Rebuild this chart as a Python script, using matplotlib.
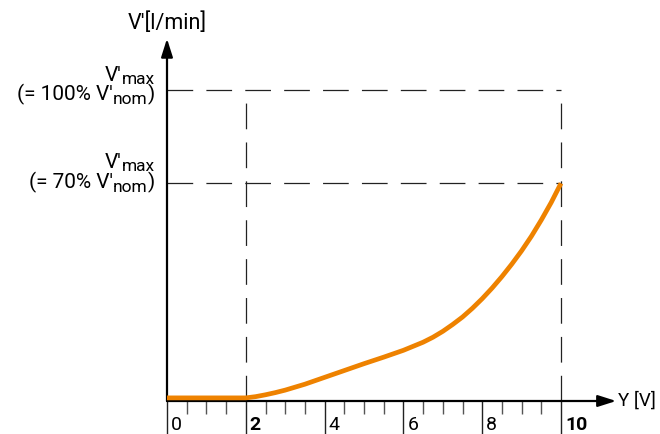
import matplotlib
matplotlib.use('Agg')
from matplotlib import pyplot as plt
from matplotlib.transforms import ScaledTranslation

plt.rcParams['font.family'] = ['Roboto', 'DejaVu Sans']
plt.rcParams['lines.scale_dashes'] = False

# control curve: flow V' (% of nominal) over control signal Y (V)
signal_v = [0, 2, 2.25, 2.5, 2.75, 3.0, 3.5, 4.0, 4.5, 5.0, 5.5, 6.0, 6.5,
            6.75, 7.0, 7.25, 7.5, 7.75, 8.0, 8.25, 8.5, 8.75, 9.0, 9.25,
            9.5, 9.75, 10]
flow_pct = [1.0, 1.0, 1.4, 2.0, 2.7, 3.5, 5.4, 7.6, 9.8, 12.0, 14.1, 16.3,
            18.9, 20.5, 22.4, 24.6, 27.0, 29.8, 32.9, 36.3, 40.0, 44.0,
            48.3, 53.0, 58.2, 63.8, 70.0]

major_ticks = [0, 2, 4, 6, 8, 10]
minor_ticks = [i * 0.5 for i in range(21)]
bold_ticks = [2, 10]
ref_levels = [100, 70]
ref_pct = ['100%', '70%']
y_start, y_end = 2, 10

FS = 14
MAIN = 15
SUB = 12.5
DARK = '#222222'

fig = plt.figure(figsize=(6.6, 4.34), dpi=100)
ax = fig.add_axes([167 / 660, 33 / 434, 394 / 660, 311 / 434])
ax.set_xlim(0, 10)
ax.set_ylim(0, 100)
for s in ax.spines.values():
    s.set_visible(False)
renderer = fig.canvas.get_renderer()


def px(v):
    return v * 72 / fig.dpi


def rich(xy, dx, dy, pieces):
    # right aligned run of (text, size, drop) pieces, offsets in points
    x = dx
    for text, size, drop in reversed(pieces):
        t = ax.annotate(text, xy=xy, xytext=(x, dy - drop),
                        textcoords='offset points', ha='right',
                        va='baseline', fontsize=size, annotation_clip=False)
        x -= px(t.get_window_extent(renderer).width)


# dashed guide lines
dash = (18.5, 9.5)
for lvl in ref_levels:
    ax.plot([0, y_end], [lvl, lvl], color=DARK, lw=0.9, dashes=dash,
            clip_on=False)
for xv in (y_start, y_end):
    ax.plot([xv, xv], [0, max(ref_levels)], color=DARK, lw=0.9,
            dashes=dash, clip_on=False)

# axes with arrows
arrow = dict(arrowstyle='-|>,head_length=1.1,head_width=0.35',
             color='black', lw=1.6, shrinkA=0, shrinkB=0)
ax.annotate('', xy=(11.4, 0), xytext=(0, 0), arrowprops=arrow,
            annotation_clip=False)
ax.annotate('', xy=(0, 116.5), xytext=(0, 0), arrowprops=arrow,
            annotation_clip=False)

ax.plot(signal_v, flow_pct, color='#EE8200', lw=3.4, solid_capstyle='butt',
        solid_joinstyle='round', clip_on=False, zorder=3)

# ticks
ax.set_yticks([])
ax.set_xticks(major_ticks)
ax.set_xticks(minor_ticks, minor=True)
ax.tick_params(axis='x', which='major', direction='out', length=25,
               width=1.0, color=DARK, pad=-14, labelsize=FS)
ax.tick_params(axis='x', which='minor', direction='out', length=9,
               width=1.0, color='#555555')
ax.set_xticklabels([str(t) for t in major_ticks])
off = ScaledTranslation(4 / 100, 0, fig.dpi_scale_trans)
for t, lab in zip(major_ticks, ax.get_xticklabels()):
    lab.set_ha('left')
    lab.set_va('top')
    lab.set_transform(lab.get_transform() + off)
    if t in bold_ticks:
        lab.set_fontweight('bold')

# axis titles
ax.text(11.45, 0, 'Y [V]', fontsize=13.5, ha='left', va='center',
        clip_on=False)
ax.text(0, 119.6, "V'[l/min]", fontsize=15.5, ha='center', va='baseline',
        clip_on=False)

# reference level labels (baselines in pixels relative to the level line)
label_shift = [(-9.5, 10), (-15, 5)]
for lvl, pct, (top, bot) in zip(ref_levels, ref_pct, label_shift):
    rich((0, lvl), px(-12), px(-top), [("V'", MAIN, 0), ('max', SUB, px(3))])
    rich((0, lvl), px(-12), px(-bot), [('(= %s V\'' % pct, MAIN, 0),
                                       ('nom', SUB, px(3.5)),
                                       (')', MAIN, 0)])

fig.savefig('out.png', dpi=100)
plt.close(fig)
